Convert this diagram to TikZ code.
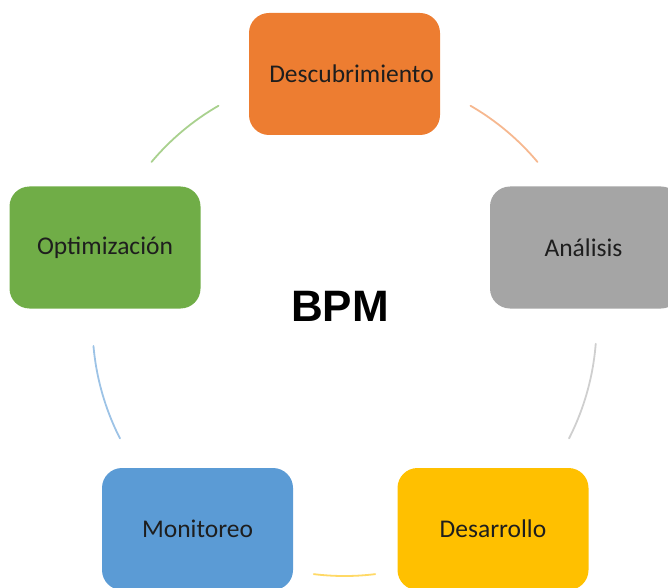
\documentclass[tikz,border=0pt]{standalone}
\usepackage{fontspec}
\setmainfont{Carlito}
\newfontfamily\headfont{Liberation Sans}
\usetikzlibrary{calc}

\definecolor{cOrange}{HTML}{ED7D31}
\definecolor{cGray}{HTML}{A5A5A5}
\definecolor{cGold}{HTML}{FFC000}
\definecolor{cBlue}{HTML}{5B9BD5}
\definecolor{cGreen}{HTML}{70AD47}
\definecolor{lOrange}{HTML}{F6B890}
\definecolor{lGray}{HTML}{CFCFCF}
\definecolor{lGold}{HTML}{FFD966}
\definecolor{lBlue}{HTML}{9DC3E6}
\definecolor{lGreen}{HTML}{A9D18E}
\definecolor{txt}{HTML}{1E1E1E}

\tikzset{
  stage/.style={rounded corners=20pt, minimum width=191pt, minimum height=122pt,
    inner sep=0pt, text=txt, font=\fontsize{25.5}{28}\selectfont},
  cyclearc/.style={line width=1.8pt, line cap=round}
}

\begin{document}
\begin{tikzpicture}[x=1pt,y=1pt]
  \path[use as bounding box] (0,0) rectangle (668,587);

  % centre of the cycle
  \coordinate (c) at (344.5,263);

  % the five stages
  \node[stage, fill=cOrange] (desc) at (344.5,513) {\hspace*{14pt}Descubrimiento};
  \node[stage, fill=cGray]   (anal) at (585.5,339.5) {Análisis\hspace*{4pt}};
  \node[stage, fill=cGold]   (desa) at (493,58) {Desarrollo};
  \node[stage, fill=cBlue]   (moni) at (197.5,58) {Monitoreo};
  \node[stage, fill=cGreen]  (opti) at (105,339.5) {Optimización};

  % title in the middle
  \node[font=\headfont\bfseries\fontsize{44}{48}\selectfont, text=black] (bpm) at (340,281) {BPM};

  % arcs of the cycle between the stages
  \draw[cyclearc, lOrange] ($(c)+(60:252pt)$) arc[start angle=60, end angle=40, radius=252pt];
  \draw[cyclearc, lGray]   ($(c)+(-4.5:252pt)$) arc[start angle=-4.5, end angle=-27, radius=252pt];
  \draw[cyclearc, lGold]   ($(c)+(-83:252pt)$) arc[start angle=-83, end angle=-97, radius=252pt];
  \draw[cyclearc, lBlue]   ($(c)+(207:252pt)$) arc[start angle=207, end angle=185, radius=252pt];
  \draw[cyclearc, lGreen]  ($(c)+(140:252pt)$) arc[start angle=140, end angle=120, radius=252pt];
\end{tikzpicture}
\end{document}
